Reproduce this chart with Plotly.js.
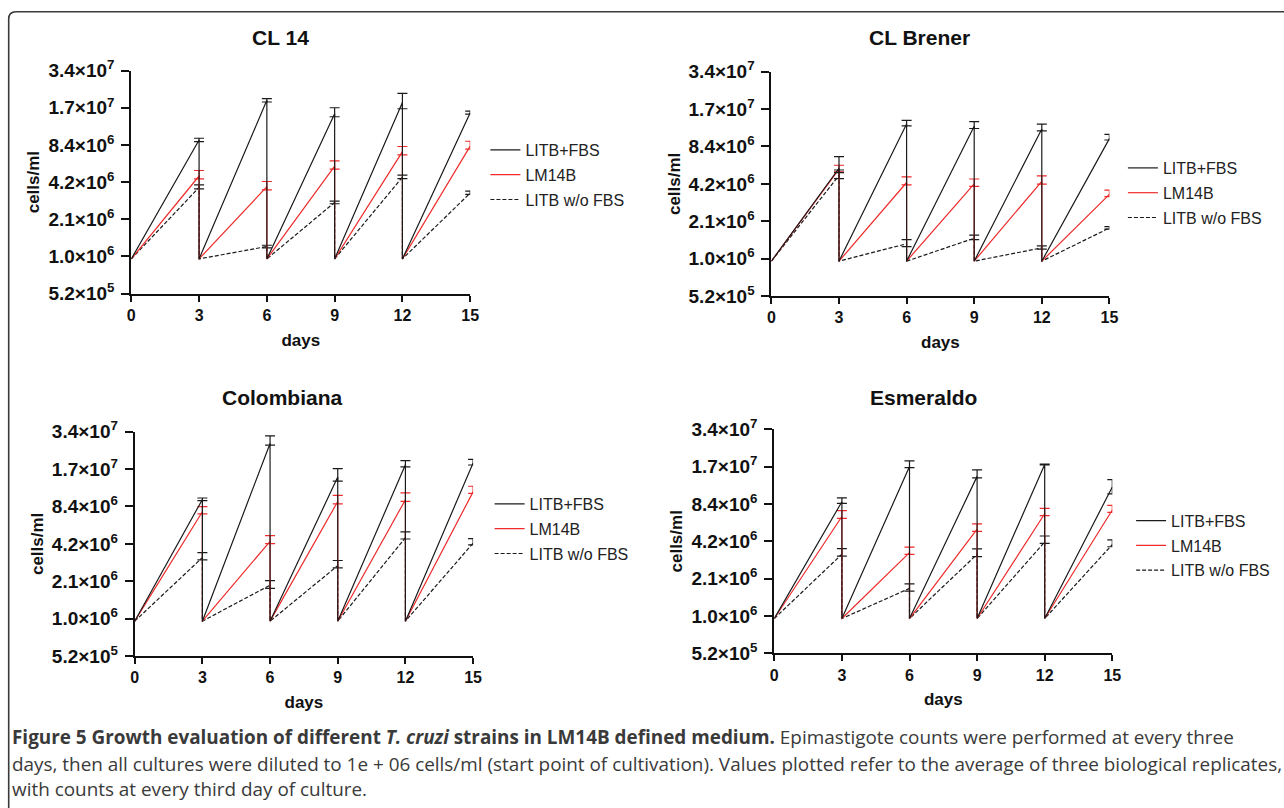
<!DOCTYPE html>
<html>
<head>
<meta charset="utf-8">
<script src="https://cdn.plot.ly/plotly-3.0.1.min.js"></script>
<style>
html,body{margin:0;padding:0;background:#fff;}
#chart{width:1284px;height:808px;}
</style>
</head>
<body>
<div id="chart"></div>
<script>
// ---------- data ----------
const START_DAYS = [0, 3, 6, 9, 12];
const PEAK_DAYS = [3, 6, 9, 12, 15];
const X_TICKS = [0, 3, 6, 9, 12, 15];
const START_DENSITY = 1e6;
const Y_TICKS = [524288, 1048576, 2097152, 4194304, 8388608, 16777216, 33554432];
const Y_TICK_LABELS = ['5.2×10<sup>5</sup>', '1.0×10<sup>6</sup>', '2.1×10<sup>6</sup>', '4.2×10<sup>6</sup>',
                       '8.4×10<sup>6</sup>', '1.7×10<sup>7</sup>', '3.4×10<sup>7</sup>'];
const SERIES_NAMES = ['LITB+FBS', 'LM14B', 'LITB w/o FBS'];
const STRAINS = ['CL 14', 'CL Brener', 'Colombiana', 'Esmeraldo'];

// CL 14
const cl14_fbs      = [9.2e6, 1.93e7, 1.5e7, 1.85e7, 1.53e7];
const cl14_fbs_hi   = [9.51e6, 1.99e7, 1.68e7, 2.2e7, 1.58e7];
const cl14_fbs_lo   = [8.93e6, 1.87e7, 1.42e7, 1.65e7, 1.49e7];
const cl14_lm       = [4.7e6, 3.85e6, 5.65e6, 7.4e6, 8.2e6];
const cl14_lm_hi    = [5.21e6, 4.24e6, 6.24e6, 8.15e6, 8.99e6];
const cl14_lm_lo    = [4.46e6, 3.63e6, 5.34e6, 6.97e6, 7.75e6];
const cl14_wo       = [3.8e6, 1.26e6, 2.87e6, 4.6e6, 3.42e6];
const cl14_wo_hi    = [3.99e6, 1.29e6, 2.94e6, 4.77e6, 3.54e6];
const cl14_wo_lo    = [3.7e6, 1.23e6, 2.8e6, 4.48e6, 3.33e6];

// CL Brener
const clb_fbs       = [5.6e6, 1.27e7, 1.22e7, 1.16e7, 9.7e6];
const clb_fbs_hi    = [6.94e6, 1.36e7, 1.33e7, 1.27e7, 1.05e7];
const clb_fbs_lo    = [5.16e6, 1.23e7, 1.17e7, 1.12e7, 9.46e6];
const clb_lm        = [5.5e6, 4.3e6, 4.2e6, 4.4e6, 3.45e6];
const clb_lm_hi     = [5.92e6, 4.77e6, 4.59e6, 4.86e6, 3.74e6];
const clb_lm_lo     = [5.23e6, 4.11e6, 4.0e6, 4.18e6, 3.31e6];
const clb_wo        = [4.9e6, 1.38e6, 1.53e6, 1.28e6, 1.85e6];
const clb_wo_hi     = [5.42e6, 1.49e6, 1.62e6, 1.33e6, 1.9e6];
const clb_wo_lo     = [4.62e6, 1.31e6, 1.49e6, 1.25e6, 1.81e6];

// Colombiana
const col_fbs       = [9.55e6, 2.7e7, 1.45e7, 1.82e7, 1.88e7];
const col_fbs_hi    = [9.81e6, 3.1e7, 1.69e7, 1.96e7, 2.01e7];
const col_fbs_lo    = [9.34e6, 2.62e7, 1.34e7, 1.75e7, 1.81e7];
const col_lm        = [7.6e6, 4.4e6, 9.2e6, 9.5e6, 1.1e7];
const col_lm_hi     = [8.36e6, 4.88e6, 1.03e7, 1.08e7, 1.22e7];
const col_lm_lo     = [7.3e6, 4.21e6, 8.79e6, 9.23e6, 1.07e7];
const col_wo        = [3.25e6, 1.95e6, 2.8e6, 4.7e6, 4.25e6];
const col_wo_hi     = [3.57e6, 2.12e6, 3.08e6, 5.23e6, 4.62e6];
const col_wo_lo     = [3.12e6, 1.84e6, 2.69e6, 4.59e6, 4.11e6];

// Esmeraldo
const esm_fbs       = [8.75e6, 1.68e7, 1.4e7, 1.745e7, 1.15e7];
const esm_fbs_hi    = [9.38e6, 1.87e7, 1.58e7, 1.76e7, 1.32e7];
const esm_fbs_lo    = [8.49e6, 1.65e7, 1.36e7, 1.73e7, 1.01e7];
const esm_lm        = [6.65e6, 3.4e6, 5.25e6, 7.0e6, 7.5e6];
const esm_lm_hi     = [7.41e6, 3.77e6, 5.79e6, 7.74e6, 8.18e6];
const esm_lm_lo     = [6.43e6, 3.29e6, 5.05e6, 6.75e6, 7.18e6];
const esm_wo        = [3.3e6, 1.75e6, 3.3e6, 4.15e6, 3.95e6];
const esm_wo_hi     = [3.66e6, 1.9e6, 3.65e6, 4.63e6, 4.3e6];
const esm_wo_lo     = [3.19e6, 1.66e6, 3.15e6, 4.04e6, 3.79e6];

const PANEL_DATA = [
  [[cl14_fbs, cl14_fbs_hi, cl14_fbs_lo], [cl14_lm, cl14_lm_hi, cl14_lm_lo], [cl14_wo, cl14_wo_hi, cl14_wo_lo]],
  [[clb_fbs, clb_fbs_hi, clb_fbs_lo], [clb_lm, clb_lm_hi, clb_lm_lo], [clb_wo, clb_wo_hi, clb_wo_lo]],
  [[col_fbs, col_fbs_hi, col_fbs_lo], [col_lm, col_lm_hi, col_lm_lo], [col_wo, col_wo_hi, col_wo_lo]],
  [[esm_fbs, esm_fbs_hi, esm_fbs_lo], [esm_lm, esm_lm_hi, esm_lm_lo], [esm_wo, esm_wo_hi, esm_wo_lo]]
];

// ---------- styling / layout ----------
const W = 1284, H = 808;
const px = v => v / W;
const py = v => 1 - v / H;
const FONT = 'Liberation Sans, Arial, sans-serif';
const SERIES_STYLE = [
  {color: '#1a1a1a', dash: 'solid'},
  {color: '#ee2a2a', dash: 'solid'},
  {color: '#1a1a1a', dash: '4px,2px'}
];
// panel boxes in pixels: [left, right, top, bottom]
const BOXES = [
  [131.3, 470.2, 70.7, 293.5],
  [771.4, 1109.4, 71.7, 296],
  [134.7, 473.1, 431.7, 656],
  [774.3, 1112.3, 429.3, 653.3]
];
const TITLE_POS = [[280, 37.5], [919, 37.5], [282, 397], [923, 397]];
// [line start x, first row centre y]
const LEGEND_POS = [[490.4, 150], [1127.9, 168], [494.6, 504], [1136.1, 520.7]];

const traces = [];
const layout = {
  width: W, height: H,
  margin: {l: 0, r: 0, t: 0, b: 0},
  paper_bgcolor: '#ffffff',
  plot_bgcolor: 'rgba(0,0,0,0)',
  font: {family: FONT, color: '#111'},
  annotations: [],
  shapes: []
};

PANEL_DATA.forEach((panel, p) => {
  const n = p + 1;
  const xa = 'x' + (n === 1 ? '' : n), ya = 'y' + (n === 1 ? '' : n);
  const legendId = 'legend' + (n === 1 ? '' : n);
  // draw order: dashed, red, black (black on top)
  [2, 1, 0].forEach(s => {
    const [mean, hi, lo] = panel[s];
    const xs = [], ys = [];
    START_DAYS.forEach((d, i) => { xs.push(d, PEAK_DAYS[i]); ys.push(START_DENSITY, mean[i]); });
    traces.push({
      type: 'scatter', mode: 'lines', x: xs, y: ys,
      xaxis: xa, yaxis: ya, name: SERIES_NAMES[s], legend: legendId,
      legendgroup: 'g' + n + '_' + s, legendrank: s + 1,
      line: {color: SERIES_STYLE[s].color, width: 1.2, dash: SERIES_STYLE[s].dash},
      hoverinfo: 'x+y'
    });
    traces.push({
      type: 'scatter', mode: 'markers', x: PEAK_DAYS, y: mean,
      xaxis: xa, yaxis: ya, showlegend: false, legend: legendId,
      legendgroup: 'g' + n + '_' + s,
      marker: {size: 2, color: SERIES_STYLE[s].color, opacity: 0},
      error_y: {
        type: 'data', symmetric: false,
        array: hi.map((h, i) => h - mean[i]),
        arrayminus: lo.map((l, i) => mean[i] - l),
        color: SERIES_STYLE[s].color, thickness: 1.2, width: 5
      },
      hoverinfo: 'skip'
    });
  });

  const [l, r, t, b] = BOXES[p];
  const axisBase = {
    showline: true, linecolor: '#111', linewidth: 2, mirror: false,
    ticks: 'outside', tickwidth: 2, tickcolor: '#111',
    showgrid: false, zeroline: false, fixedrange: true
  };
  layout['xaxis' + (n === 1 ? '' : n)] = Object.assign({}, axisBase, {
    domain: [px(l), px(r)], anchor: ya, range: [0, 15], ticklen: 6,
    tickmode: 'array', tickvals: X_TICKS, ticktext: X_TICKS.map(v => '<b>' + v + '</b>'),
    tickfont: {family: FONT, size: 16, color: '#111'},
    title: {text: '<b>days</b>', font: {family: FONT, size: 17, color: '#111'}, standoff: 11}
  });
  layout['yaxis' + (n === 1 ? '' : n)] = Object.assign({}, axisBase, {
    domain: [py(b), py(t)], anchor: xa, type: 'log', ticklen: 8,
    range: [Math.log10(Y_TICKS[0]), Math.log10(Y_TICKS[Y_TICKS.length - 1])],
    tickmode: 'array', tickvals: Y_TICKS, ticktext: Y_TICK_LABELS.map(v => '<b>' + v + '</b>'),
    tickfont: {family: FONT, size: 19, color: '#111'}, ticklabelstandoff: 3,
    title: {text: '<b>cells/ml</b>', font: {family: FONT, size: 17, color: '#111'}, standoff: 4}
  });
  layout[legendId] = {
    x: px(LEGEND_POS[p][0] - 5), y: py(LEGEND_POS[p][1] - 17), xanchor: 'left', yanchor: 'top',
    xref: 'paper', yref: 'paper',
    bgcolor: 'rgba(0,0,0,0)', borderwidth: 0,
    font: {family: FONT, size: 16, color: '#222'},
    traceorder: 'grouped', tracegroupgap: 1,
    itemwidth: 30
  };
  layout.annotations.push({
    text: '<b>' + STRAINS[p] + '</b>', xref: 'paper', yref: 'paper',
    x: px(TITLE_POS[p][0]), y: py(TITLE_POS[p][1]), xanchor: 'center', yanchor: 'middle',
    showarrow: false, font: {family: FONT, size: 21, color: '#111'}
  });
});

// caption
const CAPTION_LINES = [
  '<b>Figure 5 Growth evaluation of different <i>T. cruzi</i> strains in LM14B defined medium.</b> Epimastigote counts were performed at every three',
  'days, then all cultures were diluted to 1e + 06 cells/ml (start point of cultivation). Values plotted refer to the average of three biological replicates,',
  'with counts at every third day of culture.'
];
const CAPTION_Y = [737, 763.5, 789];
CAPTION_LINES.forEach((t, i) => {
  layout.annotations.push({
    text: t, xref: 'paper', yref: 'paper', x: px(10), y: py(CAPTION_Y[i]),
    xanchor: 'left', yanchor: 'middle', showarrow: false, align: 'left',
    font: {family: 'Open Sans, sans-serif', size: 18.9, color: '#3a3a3a'}
  });
});

// rounded frame
layout.shapes.push({
  type: 'path', xref: 'paper', yref: 'paper',
  path: 'M ' + px(1290) + ',' + py(11.7) + ' L ' + px(16) + ',' + py(11.7) +
        ' Q ' + px(8.7) + ',' + py(11.7) + ' ' + px(8.7) + ',' + py(19) +
        ' L ' + px(8.7) + ',' + py(815),
  line: {color: '#3a3a3a', width: 1.6}
});

Plotly.newPlot('chart', traces, layout, {displayModeBar: false, staticPlot: true});
</script>
</body>
</html>
